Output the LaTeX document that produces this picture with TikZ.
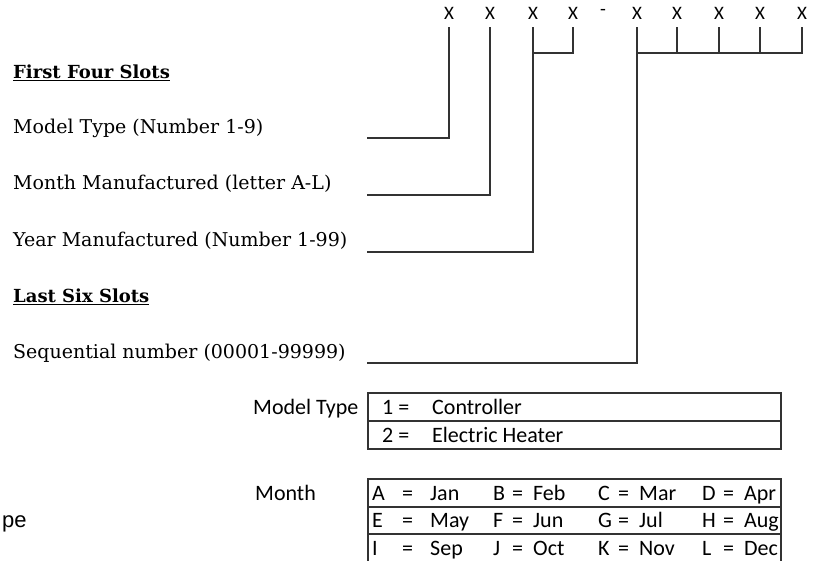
\documentclass[tikz,border=0pt]{standalone}
\usepackage{fontspec}
\setmainfont{DejaVu Serif}
\newfontfamily\tabfont{Carlito}
\newfontfamily\arialfont{Liberation Sans}
\usetikzlibrary{positioning}
\begin{document}
\begin{tikzpicture}[x=1pt,y=-1pt,
  slot/.style={font=\tabfont\fontsize{19}{19}\selectfont,inner sep=0pt,outer ysep=8pt},
  lbl/.style={anchor=base west,font=\fontsize{19}{23}\selectfont,inner sep=0pt},
  head/.style={anchor=base west,font=\bfseries\fontsize{18}{22}\selectfont,inner sep=0pt},
  tab/.style={anchor=base west,font=\tabfont\fontsize{22}{26}\selectfont,inner sep=0pt},
  wire/.style={line width=1.2pt,black!80}]
\useasboundingbox (0,0) rectangle (817,561);
\pgfmathsetmacro{\ylink}{53}
\pgfmathsetmacro{\xleft}{367}
\node[slot] (s1) at (449,13) {X};
\node[slot] (s2) at (490,13) {X};
\node[slot] (s3) at (533,13) {X};
\node[slot] (s4) at (573,13) {X};
\node[slot] (dash) at (603,12) {-};
\node[slot] (s5) at (637,13) {X};
\node[slot] (s6) at (677,13) {X};
\node[slot] (s7) at (719,13) {X};
\node[slot] (s8) at (760,13) {X};
\node[slot] (s9) at (802,13) {X};
\node[head] (first) at (13,79) {\underline{First Four Slots}};
\node[lbl] (model) at (13,134) {Model Type (Number 1-9)};
\node[lbl] (month) at (13,190) {Month Manufactured (letter A-L)};
\node[lbl] (year) at (13,247) {Year Manufactured (Number 1-99)};
\node[head] (last) at (13,303) {\underline{Last Six Slots}};
\node[lbl] (seq) at (13,359) {Sequential number (00001-99999)};
\coordinate (e1) at (\xleft,138);
\coordinate (e2) at (\xleft,195);
\coordinate (e3) at (\xleft,252);
\coordinate (e4) at (\xleft,363);
\coordinate (j1) at (533,\ylink);
\coordinate (j2) at (637,\ylink);
\draw[wire] (s1.south) |- (e1);
\draw[wire] (s2.south) |- (e2);
\draw[wire] (s3.south) |- (e3);
\draw[wire] (s4.south) |- (j1);
\draw[wire] (s5.south) |- (e4);
\draw[wire] (s9.south) |- (j2);
\foreach \k in {s6,s7,s8} \draw[wire] (\k.south) -- (\k.south |- j2);
\node[tab] (mtl) at (253,414) {Model Type};
\draw[wire] (368,393) rectangle (781,449);
\draw[wire] (368,421) -- (781,421);
\node[tab] (mt1) at (382,414) {1 =};
\node[tab] (mt1v) at (432,414) {Controller};
\node[tab] (mt2) at (382,442) {2 =};
\node[tab] (mt2v) at (432,442) {Electric Heater};
\node[tab] (mol) at (255,500) {Month};
\node[tab,font=\arialfont\fontsize{22}{26}\selectfont] (pe) at (2,527) {pe};
\draw[wire] (368,575) -- (368,479) -- (781,479) -- (781,575);
\draw[wire] (368,507) -- (781,507);
\draw[wire] (368,534) -- (781,534);
\draw[wire] (368,562) -- (781,562);
\foreach \r/\yb/\ka/\va/\kb/\vb/\kc/\vc/\kd/\vd in {1/500/A/Jan/B/Feb/C/Mar/D/Apr,
    2/527/E/May/F/Jun/G/Jul/H/Aug, 3/555/I/Sep/J/Oct/K/Nov/L/Dec}{
  \node[tab] (ka\r) at (372,\yb) {\ka};
  \node[tab] (qa\r) at (402,\yb) {=};
  \node[tab] (va\r) at (430,\yb) {\va};
  \node[tab] (kb\r) at (493,\yb) {\kb};
  \node[tab] (qb\r) at (512,\yb) {=};
  \node[tab] (vb\r) at (533,\yb) {\vb};
  \node[tab] (kc\r) at (598,\yb) {\kc};
  \node[tab] (qc\r) at (618,\yb) {=};
  \node[tab] (vc\r) at (639,\yb) {\vc};
  \node[tab] (kd\r) at (702,\yb) {\kd};
  \node[tab] (qd\r) at (723,\yb) {=};
  \node[tab] (vd\r) at (744,\yb) {\vd};
}
\end{tikzpicture}
\end{document}
